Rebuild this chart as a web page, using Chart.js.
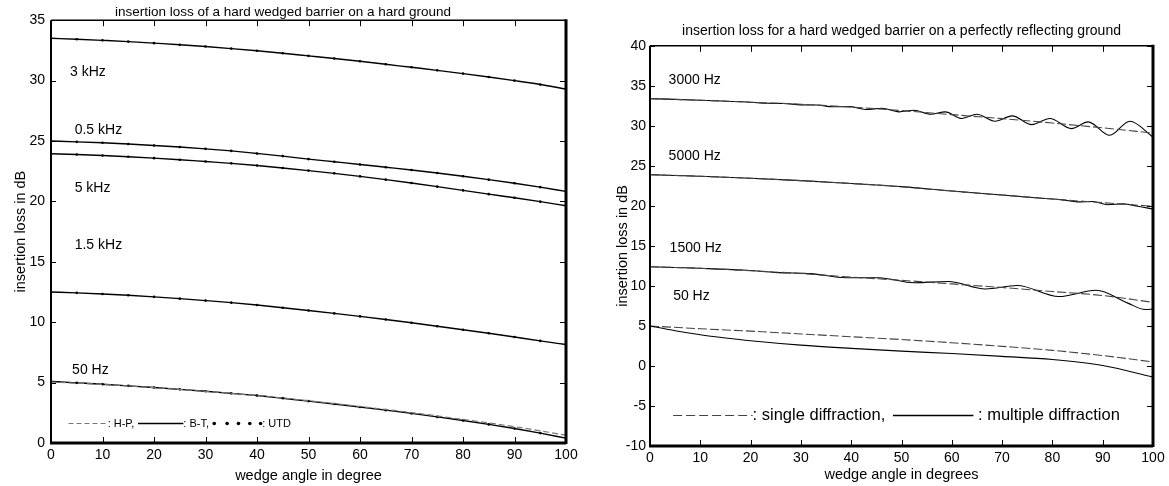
<!DOCTYPE html>
<html>
<head>
<meta charset="utf-8">
<title>insertion loss of wedged barriers</title>
<script src="https://cdn.jsdelivr.net/npm/chart.js@4.4.1/dist/chart.umd.min.js"></script>
<style>
    body { margin: 0; background: #fff; }
    #wrap { position: relative; width: 1169px; height: 486px; }
    .box { position: absolute; top: 0; height: 486px; }
</style>
</head>
<body>
<div id="wrap">
    <div class="box" style="left:0;width:585px"><canvas id="leftChart"></canvas></div>
    <div class="box" style="left:590px;width:579px"><canvas id="rightChart"></canvas></div>
</div>
<script>
// left panel: hard ground, B-T curves read every 5 degrees
var leftAngles = [0, 5, 10, 15, 20, 25, 30, 35, 40, 45, 50, 55, 60, 65, 70, 75, 80, 85, 90, 95, 100];
var bt3k = [33.5, 33.42, 33.33, 33.23, 33.1, 32.97, 32.82, 32.65, 32.47, 32.27, 32.05, 31.83, 31.6, 31.35, 31.1, 30.85, 30.58, 30.3, 30.0, 29.68, 29.3];
var bt05k = [25.0, 24.93, 24.85, 24.75, 24.63, 24.5, 24.35, 24.18, 23.97, 23.75, 23.5, 23.28, 23.06, 22.83, 22.6, 22.35, 22.08, 21.8, 21.5, 21.18, 20.83];
var bt5k = [23.95, 23.88, 23.8, 23.7, 23.58, 23.45, 23.3, 23.15, 22.97, 22.77, 22.55, 22.32, 22.07, 21.8, 21.52, 21.22, 20.91, 20.6, 20.3, 19.98, 19.64];
var bt15k = [12.5, 12.43, 12.34, 12.23, 12.1, 11.95, 11.79, 11.62, 11.42, 11.2, 10.97, 10.73, 10.48, 10.22, 9.95, 9.67, 9.38, 9.08, 8.77, 8.45, 8.15];
var bt50 = [5.1, 4.98, 4.86, 4.73, 4.59, 4.44, 4.28, 4.11, 3.93, 3.7, 3.47, 3.23, 2.98, 2.72, 2.45, 2.16, 1.86, 1.54, 1.2, 0.82, 0.4];
var hpAngles = [0, 10, 20, 30, 40, 50, 60, 70, 80, 90, 100];
var hp50 = [5.05, 4.85, 4.58, 4.27, 3.93, 3.5, 3.02, 2.52, 1.95, 1.35, 0.65];
var leftNames = ['3 kHz', '0.5 kHz', '5 kHz', '1.5 kHz', '50 Hz'];

// right panel: perfectly reflecting ground
var rightAngles = [0, 10, 20, 30, 40, 50, 60, 70, 80, 90, 100];
var single3000 = [33.4, 33.2, 32.95, 32.7, 32.35, 31.9, 31.4, 30.9, 30.35, 29.75, 29.1];
var multi3000Angles = [0, 10, 20, 23.3, 26.6, 30, 33.2, 36.3, 39.6, 42.9, 46.1, 49.5, 52.5, 55.8, 58.7, 62, 65, 68.6, 72, 75.9, 79.5, 83.8, 87.1, 91.4, 95.4, 100];
var multi3000 = [33.4, 33.2, 32.95, 32.82, 32.8, 32.62, 32.6, 32.38, 32.4, 32.05, 32.2, 31.75, 31.95, 31.45, 31.75, 30.92, 31.45, 30.58, 31.25, 30.15, 30.92, 29.65, 30.5, 28.82, 30.58, 28.6];
var single5000 = [23.9, 23.7, 23.45, 23.15, 22.8, 22.4, 21.85, 21.35, 20.85, 20.4, 19.95];
var multi5000Angles = [0, 10, 20, 30, 40, 50, 60, 70, 78, 82, 85, 88, 91, 94, 97, 100];
var multi5000 = [23.9, 23.7, 23.45, 23.15, 22.8, 22.4, 21.85, 21.35, 20.95, 20.75, 20.5, 20.55, 20.15, 20.25, 19.95, 19.6];
var single1500 = [12.4, 12.2, 11.9, 11.55, 11.1, 10.7, 10.25, 9.8, 9.3, 8.8, 7.95];
var multi1500Angles = [0, 10, 18.5, 25.5, 32, 39, 45.5, 52.5, 59.3, 66.7, 73, 81.3, 88.7, 95, 98.5, 100];
var multi1500 = [12.4, 12.2, 11.98, 11.66, 11.54, 11.02, 11.03, 10.4, 10.55, 9.62, 10.05, 8.67, 9.45, 7.85, 7.05, 7.1];
var single50 = [5.0, 4.65, 4.35, 4.0, 3.65, 3.3, 2.9, 2.45, 1.95, 1.3, 0.5];
var multi50Angles = [0, 5, 10, 15, 20, 30, 40, 50, 60, 70, 80, 90, 100];
var multi50 = [5.0, 4.4, 3.9, 3.5, 3.15, 2.6, 2.2, 1.85, 1.55, 1.2, 0.8, 0.05, -1.4];
var rightNames = ['3000 Hz', '5000 Hz', '1500 Hz', '50 Hz'];

var xTicks = [0, 10, 20, 30, 40, 50, 60, 70, 80, 90, 100];

var FONT = '"Liberation Sans", Arial, Helvetica, sans-serif';
Chart.defaults.font.family = FONT;
Chart.defaults.color = '#000';

function pts(xs, ys) {
    return xs.map(function (x, i) { return {x: x, y: ys[i]}; });
}

// box round the plot, thick on the right and bottom, ticks pointing inward
var framePlugin = {
    id: 'frame',
    afterDatasetsDraw: function (chart) {
        var ctx = chart.ctx, a = chart.chartArea;
        var xs = chart.scales.x, ys = chart.scales.y;
        ctx.save();
        ctx.strokeStyle = '#000';
        ctx.lineWidth = 1;
        ctx.beginPath();
        xs.ticks.forEach(function (t) {
            var px = Math.round(xs.getPixelForValue(t.value)) + 0.5;
            ctx.moveTo(px, a.bottom); ctx.lineTo(px, a.bottom - 6);
            ctx.moveTo(px, a.top); ctx.lineTo(px, a.top + 6);
        });
        ys.ticks.forEach(function (t) {
            var py = Math.round(ys.getPixelForValue(t.value)) + 0.5;
            ctx.moveTo(a.left, py); ctx.lineTo(a.left + 5, py);
            ctx.moveTo(a.right, py); ctx.lineTo(a.right - 6, py);
        });
        ctx.stroke();
        ctx.lineWidth = 1.5;
        ctx.beginPath();
        ctx.moveTo(a.left, a.top); ctx.lineTo(a.right, a.top);
        ctx.stroke();
        ctx.lineWidth = 2;
        ctx.beginPath();
        ctx.moveTo(a.left, a.top); ctx.lineTo(a.left, a.bottom);
        ctx.stroke();
        ctx.lineWidth = 3;
        ctx.beginPath();
        ctx.moveTo(a.left - 1, a.bottom); ctx.lineTo(a.right, a.bottom);
        ctx.moveTo(a.right, a.top - 1); ctx.lineTo(a.right, a.bottom + 1);
        ctx.stroke();
        ctx.restore();
    }
};

// curve names and the little key drawn inside the plot, placed in data units
var notesPlugin = {
    id: 'notes',
    afterDraw: function (chart, args, opts) {
        var ctx = chart.ctx, xs = chart.scales.x, ys = chart.scales.y;
        ctx.save();
        ctx.fillStyle = '#000';
        ctx.textBaseline = 'middle';
        ctx.font = opts.size + 'px ' + FONT;
        opts.labels.forEach(function (l, i) {
            ctx.fillText(opts.names[i], xs.getPixelForValue(l[0]), ys.getPixelForValue(l[1]));
        });
        var ky = Math.round(ys.getPixelForValue(opts.keyY)) + 0.5;
        ctx.font = opts.keySize + 'px ' + FONT;
        opts.key.forEach(function (k) {
            if (k.text) {
                ctx.fillText(k.text, xs.getPixelForValue(k.at), ky);
            } else if (k.dots) {
                k.dots.forEach(function (d) {
                    ctx.beginPath();
                    ctx.arc(xs.getPixelForValue(d), ky, 1.8, 0, Math.PI * 2);
                    ctx.fill();
                });
            } else {
                ctx.strokeStyle = k.color;
                ctx.lineWidth = k.width;
                ctx.setLineDash(k.dash);
                ctx.beginPath();
                ctx.moveTo(xs.getPixelForValue(k.from), ky);
                ctx.lineTo(xs.getPixelForValue(k.to), ky);
                ctx.stroke();
                ctx.setLineDash([]);
            }
        });
        ctx.restore();
    }
};

function btSet(ys) {
    return {
        data: pts(leftAngles, ys), borderColor: '#000', borderWidth: 1.4,
        pointRadius: 1.3, pointBackgroundColor: '#000', pointBorderWidth: 0,
        cubicInterpolationMode: 'monotone', fill: false
    };
}

function axes(yMin, yMax, xTitle, yWidth, xHeight, yTitlePad, xTitlePad, yTickPad) {
    return {
        x: {
            type: 'linear', min: 0, max: 100,
            afterBuildTicks: function (s) { s.ticks = xTicks.map(function (v) { return {value: v}; }); },
            ticks: {color: '#000', font: {size: 14}, padding: 4, maxRotation: 0},
            grid: {display: false, drawTicks: false},
            border: {display: false},
            title: {display: true, text: xTitle, color: '#000', font: {size: 14.5}, padding: {top: 0, bottom: xTitlePad}},
            afterFit: function (s) { s.height = xHeight; }
        },
        y: {
            type: 'linear', min: yMin, max: yMax,
            ticks: {stepSize: 5, color: '#000', font: {size: 14}, padding: yTickPad},
            grid: {display: false, drawTicks: false},
            border: {display: false},
            title: {display: true, text: 'insertion loss in dB', color: '#000', font: {size: 14.5}, padding: {top: yTitlePad, bottom: 0}},
            afterFit: function (s) { s.width = yWidth; }
        }
    };
}

new Chart(document.getElementById('leftChart'), {
    type: 'line',
    data: {
        datasets: [
            btSet(bt3k), btSet(bt05k), btSet(bt5k), btSet(bt15k),
            {
                data: pts(hpAngles, hp50), borderColor: '#777', borderWidth: 1.2, borderDash: [6, 3],
                pointRadius: 0, cubicInterpolationMode: 'monotone', fill: false
            },
            btSet(bt50)
        ]
    },
    options: {
        responsive: true, maintainAspectRatio: false, animation: false,
        layout: {padding: {left: 0, right: 19, top: 0, bottom: 0}},
        plugins: {
            legend: {display: false}, tooltip: {enabled: false},
            title: {
                display: true, text: 'insertion loss of a hard wedged barrier on a hard ground',
                color: '#000', font: {size: 13.5, weight: 'normal'}, padding: {top: 4, bottom: 0}
            },
            notes: {
                size: 14, names: leftNames,
                labels: [[3.7, 30.7], [4.6, 25.9], [4.6, 21.1], [4.6, 16.4], [4.1, 6.0]],
                keyY: 1.68, keySize: 11,
                key: [
                    {from: 3.4, to: 11, color: '#777', width: 1, dash: [5, 3]},
                    {text: ': H-P,', at: 11},
                    {from: 16.9, to: 25.7, color: '#000', width: 1.3, dash: []},
                    {text: ': B-T,', at: 25.7},
                    {dots: [31.7, 34.2, 36.4, 38.6, 40.7]},
                    {text: ': UTD', at: 41}
                ]
            }
        },
        scales: axes(0, 35, 'wedge angle in degree', 51, 43, 12, 1, 6)
    },
    plugins: [framePlugin, notesPlugin]
});

function singleSet(ys) {
    return {
        data: pts(rightAngles, ys), borderColor: '#444', borderWidth: 1.1, borderDash: [9, 3],
        pointRadius: 0, cubicInterpolationMode: 'monotone', fill: false
    };
}

function multiSet(xs, ys) {
    return {
        data: pts(xs, ys), borderColor: '#000', borderWidth: 1.1,
        pointRadius: 0, cubicInterpolationMode: 'monotone', fill: false
    };
}

new Chart(document.getElementById('rightChart'), {
    type: 'line',
    data: {
        datasets: [
            singleSet(single3000), multiSet(multi3000Angles, multi3000),
            singleSet(single5000), multiSet(multi5000Angles, multi5000),
            singleSet(single1500), multiSet(multi1500Angles, multi1500),
            singleSet(single50), multiSet(multi50Angles, multi50)
        ]
    },
    options: {
        responsive: true, maintainAspectRatio: false, animation: false,
        layout: {padding: {left: 0, right: 16, top: 0, bottom: 0}},
        plugins: {
            legend: {display: false}, tooltip: {enabled: false},
            title: {
                display: true, fullSize: false,
                text: 'insertion loss for a hard wedged barrier on a perfectly reflecting ground',
                color: '#000', font: {size: 14, weight: 'normal'}, padding: {top: 23, bottom: 6}
            },
            notes: {
                size: 14, names: rightNames,
                labels: [[3.7, 35.67], [3.7, 26.2], [3.9, 14.67], [4.6, 8.7]],
                keyY: -6.1, keySize: 16.5,
                key: [
                    {from: 4.6, to: 20.4, color: '#444', width: 1.1, dash: [9, 4]},
                    {text: ': single diffraction,', at: 20.4},
                    {from: 48.3, to: 64.3, color: '#000', width: 1.3, dash: []},
                    {text: ' : multiple diffraction', at: 64.3}
                ]
            }
        },
        scales: axes(-10, 40, 'wedge angle in degrees', 60, 40, 24, 2, 4)
    },
    plugins: [framePlugin, notesPlugin]
});
</script>
</body>
</html>
